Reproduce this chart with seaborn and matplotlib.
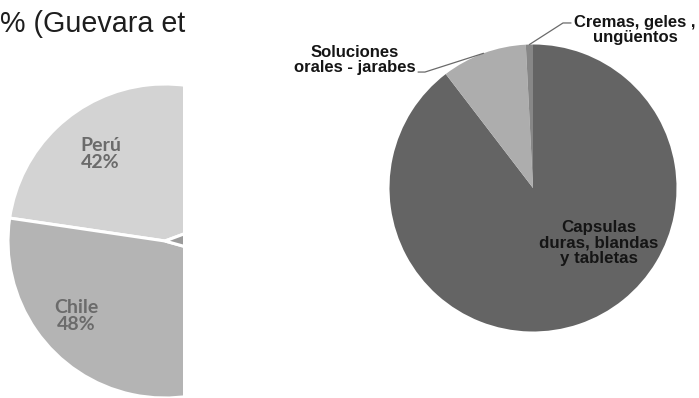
import matplotlib
matplotlib.use("Agg")
import matplotlib.pyplot as plt
import seaborn as sns
import numpy as np

# Left pie: share by country
countries = ["Perú", "Chile", "Otros"]
country_share = [42, 48, 10]
country_colors = ["#d3d3d3", "#b4b4b4", "#9b9b9b"]

# Right pie: pharmaceutical dosage forms
forms = ["Capsulas\nduras, blandas\ny tabletas", "Soluciones\norales - jarabes", "Cremas, geles ,\nungüentos"]
form_share = [89.6, 9.6, 0.8]
form_colors = ["#646464", "#adadad", "#878787"]

caption = "% (Guevara et"

sns.set_theme(style="white")
plt.rcParams["font.family"] = ["Liberation Sans", "DejaVu Sans"]

W, H = 699, 398
fig = plt.figure(figsize=(W / 100, H / 100), dpi=100)
fig.patch.set_facecolor("white")


def px_axes(left, top, width, height):
    return fig.add_axes([left / W, 1 - (top + height) / H, width / W, height / H])


# caption fragment
fig.text(0 / W, 1 - 32 / H, caption, fontsize=20.6, color="#1e1e1e",
         ha="left", va="baseline")

# ---- left pie (cut at the right edge) ----
r1 = 157.0
ax1 = px_axes(165 - r1, 241 - r1, 183 - (165 - r1), 2 * r1)
pal1 = sns.color_palette(country_colors)
wedges1, _ = ax1.pie(country_share, colors=pal1, startangle=20.4, counterclock=True,
                     wedgeprops=dict(edgecolor="white", linewidth=2.2))
ax1.set_xlim(-1, (183 - 165) / r1)
ax1.set_ylim(-1, 1)
ax1.set_aspect("auto")
ax1.axis("off")
for w in wedges1:
    w.set_clip_on(True)
    w.set_clip_path(ax1.patch)

label_pos1 = {"Perú": (-0.41, 0.555), "Chile": (-0.567, -0.478)}
for name, share in zip(countries, country_share):
    if name in label_pos1:
        x, y = label_pos1[name]
        ax1.text(x, y, f"{name}\n{share}%", ha="center", va="center",
                 fontfamily=["Lato", "DejaVu Sans"], fontweight="bold",
                 fontsize=14, color="#6b6b6b", linespacing=1.05)

# ---- right pie ----
r2 = 143.5
ax2 = px_axes(533 - r2, 188 - r2, 2 * r2, 2 * r2)
pal2 = sns.color_palette(form_colors)
wedges, _ = ax2.pie(form_share, colors=pal2, startangle=90, counterclock=False,
                    wedgeprops=dict(linewidth=0))
ax2.set_xlim(-1, 1)
ax2.set_ylim(-1, 1)
ax2.set_aspect("auto")
ax2.axis("off")

# inside label for the large slice
ax2.text(0.46, -0.383, forms[0], ha="center", va="center", fontsize=12.2,
         fontweight="bold", color="#151515", linespacing=1.05)

# outside labels with leader lines
outside = {
    1: dict(text_xy=(-1.240, 0.892), elbow=(-0.753, 0.808), end=(-0.801, 0.808)),
    2: dict(text_xy=(0.711, 1.101), elbow=(0.209, 1.150), end=(0.265, 1.150)),
}
for i, spec in outside.items():
    w = wedges[i]
    mid = np.deg2rad((w.theta1 + w.theta2) / 2)
    p0 = (np.cos(mid), np.sin(mid))
    xs = [p0[0], spec["elbow"][0], spec["end"][0]]
    ys = [p0[1], spec["elbow"][1], spec["end"][1]]
    ax2.plot(xs, ys, color="#6a6a6a", linewidth=0.9, clip_on=False)
    ax2.text(*spec["text_xy"], forms[i], ha="center", va="center",
             fontsize=12, fontweight="bold", color="#151515",
             linespacing=1.05, clip_on=False)

fig.savefig("out.png", dpi=100, facecolor="white")
